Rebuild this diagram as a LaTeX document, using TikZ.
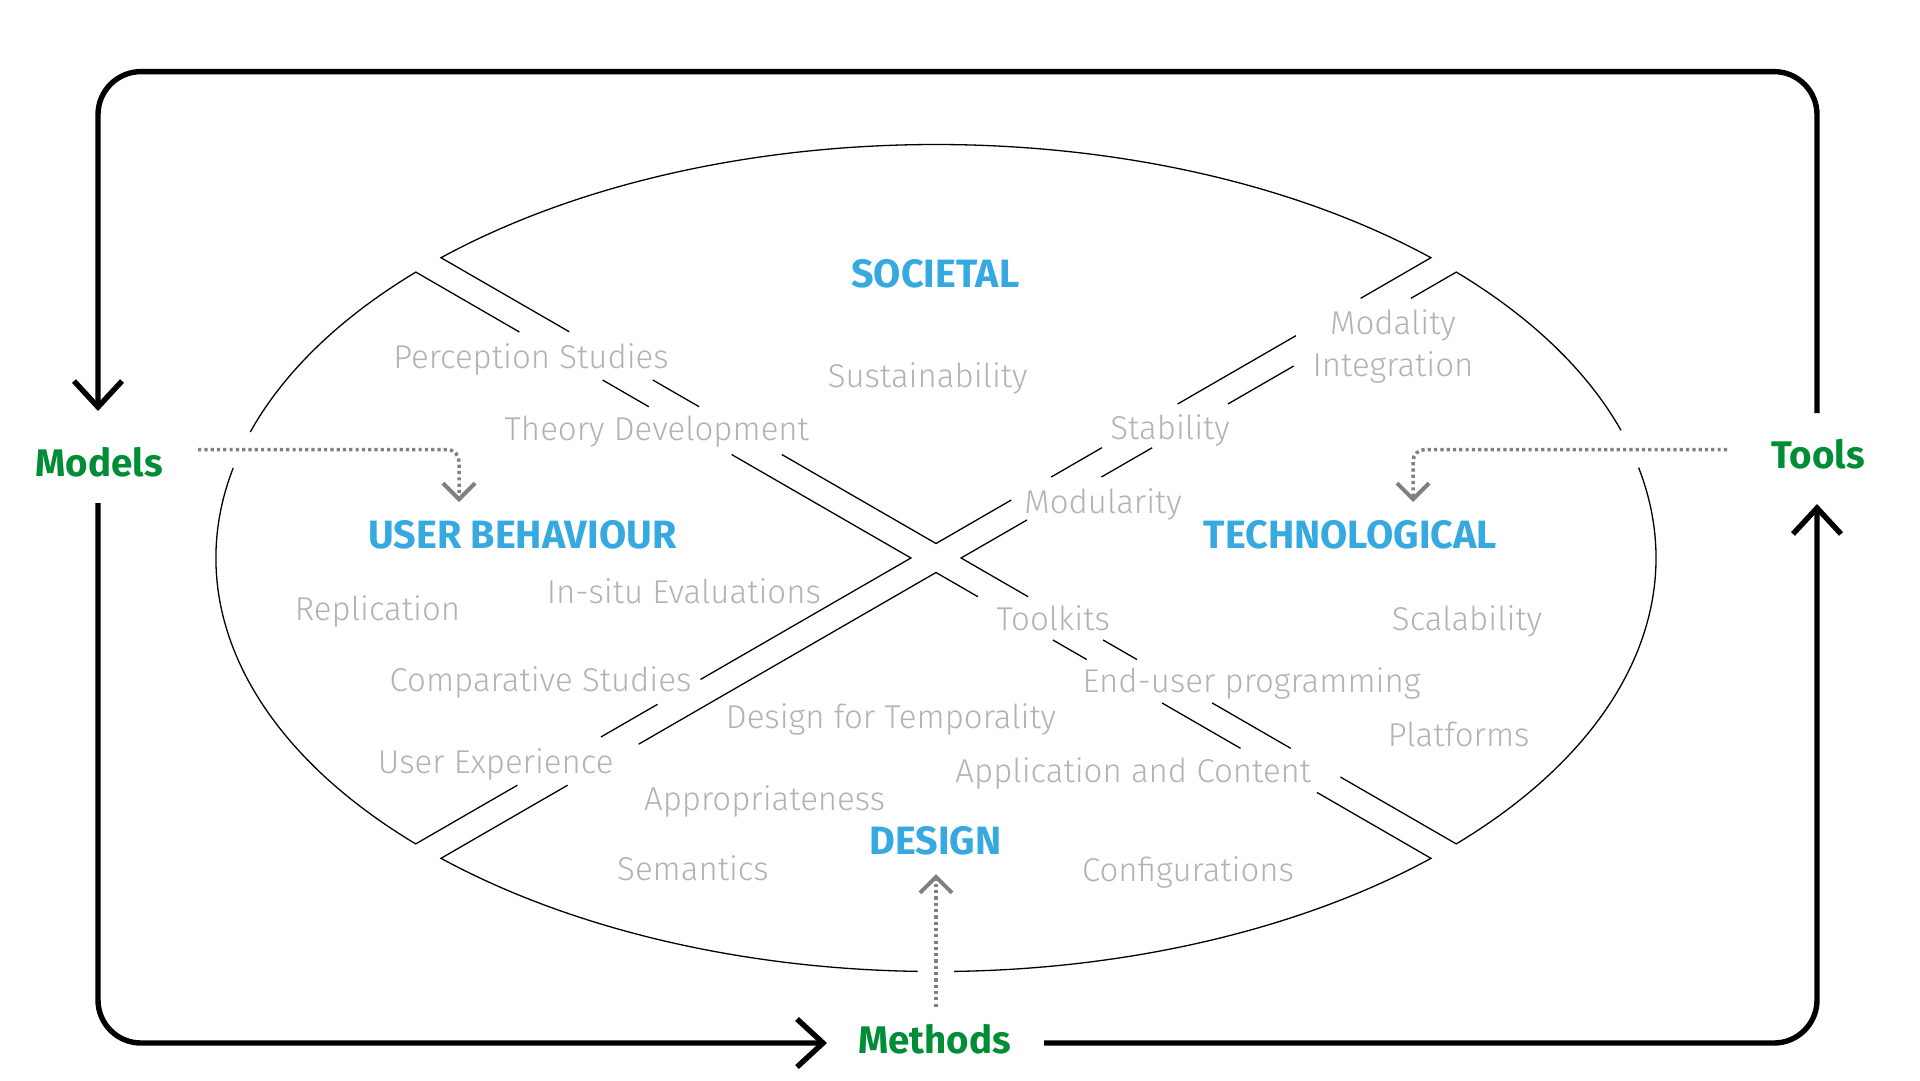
\documentclass[tikz,border=0pt]{standalone}
\usepackage{fontspec}
\usetikzlibrary{arrows.meta}
\newfontfamily\lightfont{Fira Sans Light}
\newfontfamily\boldfont{Fira Sans Bold}
\definecolor{txtgray}{RGB}{178,178,178}
\definecolor{headblue}{RGB}{54,169,225}
\definecolor{cyclegreen}{RGB}{0,141,54}
\definecolor{arrowgray}{RGB}{128,128,128}
\begin{document}
\begin{tikzpicture}[x=1pt,y=-1pt,
  edge/.style={line width=1.3pt,black,line join=miter},
  frame/.style={line width=5.4pt,black,rounded corners=43pt,-{Straight Barb[length=26pt,width=48pt]}},
  dotarrow/.style={draw=arrowgray,line width=3.5pt,dash pattern=on 3.2pt off 3.1pt,rounded corners=12pt,-{Straight Barb[length=16pt,width=32pt,line width=0.5pt 1]}},
  lbl/.style={font=\lightfont\fontsize{33}{42.7}\selectfont,text=txtgray,inner sep=0pt,anchor=base},
  head/.style={font=\boldfont\fontsize{39.5}{46}\selectfont,text=headblue,inner sep=0pt,anchor=base},
  cyc/.style={font=\boldfont\fontsize{38.5}{44}\selectfont,text=cyclegreen,inner sep=0pt,anchor=base},
  ell/.style={x radius=720,y radius=413.5}]
\useasboundingbox (0,0) rectangle (1920,1080);

% ---------- top region (SOCIETAL)
\draw[edge] (569.2,331.7) -- (441.0,257.7) arc[start angle=-133.43,end angle=-46.57,ell] -- (1360.7,298.3);
\draw[edge] (652.8,380) -- (699.1,406.7);
\draw[edge] (781.8,454.5) -- (936,543.5) -- (1011.3,500);
\draw[edge] (1051.2,477) -- (1101.9,447.7);
\draw[edge] (1177.6,404) -- (1295.9,335.7);

% ---------- right region (TECHNOLOGICAL)
\draw[edge] (1410.9,298.3) -- (1456.3,272.1) arc[start angle=-43.74,end angle=-17.98,ell];
\draw[edge] (1638.6,467.6) arc[start angle=-12.63,end angle=43.74,ell] -- (1340.4,777);
\draw[edge] (1290.7,748.3) -- (1212.1,702.9);
\draw[edge] (1136.9,659.5) -- (1103.1,640);
\draw[edge] (1028.1,596.7) -- (961.1,558) -- (1026.9,520);
\draw[edge] (1101.4,477) -- (1152.2,447.7);
\draw[edge] (1227.9,404) -- (1293.7,366);

% ---------- left region (USER BEHAVIOUR)
\draw[edge] (517.4,785.2) -- (415.7,843.9) arc[start angle=136.26,end angle=192.57,ell];
\draw[edge] (250.3,432.0) arc[start angle=197.74,end angle=223.74,ell] -- (519.4,332);
\draw[edge] (602.6,380) -- (648.8,406.7);
\draw[edge] (731.6,454.5) -- (910.9,558) -- (700.4,679.5);
\draw[edge] (657.5,704.3) -- (600.9,737);

% ---------- bottom region (DESIGN)
\draw[edge] (977.9,596.7) -- (936,572.5) -- (638.6,744.2);
\draw[edge] (567.6,785.2) -- (441.0,858.3) arc[start angle=133.43,end angle=91.46,ell];
\draw[edge] (954.0,971.4) arc[start angle=88.57,end angle=46.57,ell] -- (1316.9,792.4);
\draw[edge] (1052.9,640) -- (1086.7,659.5);
\draw[edge] (1161.9,702.9) -- (1240.5,748.3);

% ---------- cycle labels
\node[cyc] (models) at (99.2,476) {Models};
\node[cyc] (tools) at (1818,468.3) {Tools};
\node[cyc] (methods) at (934.5,1053) {Methods};

\coordinate (modelsIn) at (98,411);
\coordinate (modelsOut) at (98,503);
\coordinate (toolsIn) at (1817,504);
\coordinate (toolsOut) at (1817,413);
\coordinate (methodsIn) at (827,1043);
\coordinate (methodsOut) at (1044,1043);
\coordinate (topLeft) at (98,71.6);
\coordinate (botLeft) at (98,1043);

\draw[frame] (toolsOut) |- (topLeft) -- (modelsIn);
\draw[frame] (modelsOut) -- (botLeft) -- (methodsIn);
\draw[frame] (methodsOut) -| (toolsIn);

% ---------- region headings
\node[head] (societal) at (935.3,287.3) {SOCIETAL};
\node[head] (userb) at (522.3,548.5) {USER BEHAVIOUR};
\node[head] (techno) at (1350.5,548.5) {TECHNOLOGICAL};
\node[head] (design) at (935.6,854) {DESIGN};

% ---------- dotted arrows
\coordinate (modelsDot) at (198,449.5);
\coordinate (userbTip) at (459,502);
\coordinate (toolsDot) at (1727,449.5);
\coordinate (technoTip) at (1413,502);
\coordinate (methodsDot) at (936,1006.7);
\coordinate (designTip) at (936,874);
\draw[dotarrow] (modelsDot) -| (userbTip);
\draw[dotarrow] (toolsDot) -| (technoTip);
\draw[dotarrow] (methodsDot) -- (designTip);

% ---------- topic labels
\node[lbl] (perc) at (531,368.3) {Perception Studies};
\node[lbl] (theory) at (656.8,440) {Theory Development};
\node[lbl] (sust) at (927.6,387.6) {Sustainability};
\node[lbl,align=center] (modint) at (1393,376.7) {Modality\\Integration};
\node[lbl] (stab) at (1170,439) {Stability};
\node[lbl] (modul) at (1103,513.8) {Modularity};
\node[lbl] (insitu) at (683.8,603.7) {In-situ Evaluations};
\node[lbl] (repl) at (377.5,620.9) {Replication};
\node[lbl] (toolk) at (1053.2,630) {Toolkits};
\node[lbl] (scal) at (1467,630.2) {Scalability};
\node[lbl] (comp) at (540.5,691.5) {Comparative Studies};
\node[lbl] (enduser) at (1251.5,692.2) {End-user programming};
\node[lbl] (temp) at (891,728.4) {Design for Temporality};
\node[lbl] (platf) at (1458.7,746.6) {Platforms};
\node[lbl] (userexp) at (495.7,773.1) {User Experience};
\node[lbl] (appl) at (1133.3,782.8) {Application and Content};
\node[lbl] (approp) at (764.6,810.3) {Appropriateness};
\node[lbl] (seman) at (693,880.9) {Semantics};
\node[lbl] (config) at (1188,881.6) {Configurations};
\end{tikzpicture}
\end{document}
